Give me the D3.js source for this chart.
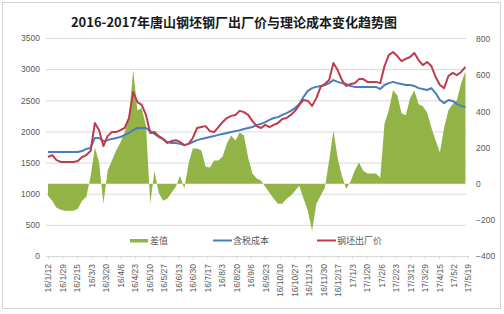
<!DOCTYPE html>
<html>
<head>
<meta charset="utf-8">
<script src="https://cdn.jsdelivr.net/npm/d3@7"></script>
<style>
  body { margin: 0; background: #fff; }
  svg { display: block; font-family: "Liberation Sans", Arial, sans-serif; }
  .cn { font-family: "Noto Sans CJK SC", sans-serif; }
  .tick text { fill: #595959; }
</style>
</head>
<body>
<div id="chart"></div>
<script>
// sample dates (every 5 days)
var dates = ["2016-01-12","2016-01-17","2016-01-22","2016-01-27",
  "2016-02-01","2016-02-06","2016-02-11","2016-02-16","2016-02-21","2016-02-26",
  "2016-03-02","2016-03-07","2016-03-12","2016-03-17","2016-03-22","2016-03-27",
  "2016-04-01","2016-04-06","2016-04-11","2016-04-16","2016-04-21","2016-04-26",
  "2016-05-01","2016-05-06","2016-05-11","2016-05-16","2016-05-21","2016-05-26","2016-05-31",
  "2016-06-05","2016-06-10","2016-06-15","2016-06-20","2016-06-25","2016-06-30",
  "2016-07-05","2016-07-10","2016-07-15","2016-07-20","2016-07-25","2016-07-30",
  "2016-08-04","2016-08-09","2016-08-14","2016-08-19","2016-08-24","2016-08-29",
  "2016-09-03","2016-09-08","2016-09-13","2016-09-18","2016-09-23","2016-09-28",
  "2016-10-03","2016-10-08","2016-10-13","2016-10-18","2016-10-23","2016-10-28",
  "2016-11-02","2016-11-07","2016-11-12","2016-11-17","2016-11-22","2016-11-27",
  "2016-12-02","2016-12-07","2016-12-12","2016-12-17","2016-12-22","2016-12-27",
  "2017-01-01","2017-01-06","2017-01-11","2017-01-16","2017-01-21","2017-01-26","2017-01-31",
  "2017-02-05","2017-02-10","2017-02-15","2017-02-20","2017-02-25",
  "2017-03-02","2017-03-07","2017-03-12","2017-03-17","2017-03-22","2017-03-27",
  "2017-04-01","2017-04-06","2017-04-11","2017-04-16","2017-04-21","2017-04-26",
  "2017-05-01","2017-05-06","2017-05-11","2017-05-16"];

// 钢坯出厂价 (left axis)
var price = [1590,1620,1540,1510,1510,1510,1510,1525,1590,1620,
  1685,2135,2020,1765,1925,1990,1990,2020,2055,2215,
  2635,2470,2425,2265,1975,1990,1925,1880,1815,1845,
  1860,1830,1780,1800,1895,2055,2070,2085,2005,1990,
  2070,2150,2215,2250,2265,2330,2310,2265,2165,2085,
  2055,2105,2070,2105,2135,2200,2215,2265,2330,2425,
  2505,2490,2410,2535,2715,2760,2825,3100,2985,2825,
  2730,2760,2775,2840,2840,2795,2795,2795,2775,3050,
  3225,3275,3210,3130,3165,3195,3260,3145,3065,3115,
  3050,2875,2745,2695,2890,2940,2905,2955,3035];

// 含税成本 (left axis)
var cost = [1670,1670,1670,1670,1670,1670,1670,1670,1685,1720,
  1735,1895,1895,1845,1860,1880,1895,1910,1945,1975,
  2020,2055,2055,2055,2005,1960,1910,1880,1830,1815,
  1815,1800,1780,1800,1830,1860,1880,1895,1910,1925,
  1945,1960,1975,1990,2005,2020,2040,2055,2070,2105,
  2120,2150,2185,2215,2230,2265,2295,2330,2375,2440,
  2555,2650,2695,2715,2730,2745,2775,2825,2795,2775,
  2760,2730,2715,2715,2715,2715,2715,2715,2680,2745,
  2775,2795,2775,2760,2745,2745,2730,2695,2680,2665,
  2695,2615,2505,2455,2505,2490,2440,2410,2390];

// 差值 (right axis)
var diff = [-67,-94,-133,-144,-150,-150,-150,-139,-94,-72,
  40,200,117,-111,72,128,183,228,283,367,
  628,406,417,322,-110,70,-50,-94,-83,-50,
  -17,44,-28,111,194,194,183,94,89,128,
  128,150,222,267,239,283,267,144,56,28,
  17,-17,-50,-83,-111,-111,-83,-67,-39,-11,
  -83,-150,-261,-111,-67,-22,128,294,144,44,
  -28,10,72,117,72,56,56,56,33,333,
  406,517,489,389,378,472,517,439,428,394,
  311,239,172,311,406,439,461,556,622];

var xTickLabels = ["16/1/12","16/1/29","16/2/15","16/3/3","16/3/20","16/4/6","16/4/23",
  "16/5/10","16/5/27","16/6/13","16/6/30","16/7/17","16/8/3","16/8/20","16/9/6",
  "16/9/23","16/10/10","16/10/27","16/11/13","16/11/30","16/12/17","17/1/3",
  "17/1/20","17/2/6","17/2/23","17/3/12","17/3/29","17/4/15","17/5/2","17/5/19"];
var leftTicks = [0, 500, 1000, 1500, 2000, 2500, 3000, 3500];
var rightTicks = [-400, -200, 0, 200, 400, 600, 800];

var width = 504, height = 314;
var plotLeft = 46, plotRight = 466, plotTop = 38, plotBottom = 256;

var svg = d3.select("#chart").append("svg")
  .attr("width", width)
  .attr("height", height);

// outer frame
svg.append("rect")
  .attr("x", 2.5).attr("y", 2.5)
  .attr("width", 498).attr("height", 306)
  .attr("fill", "#fff")
  .attr("stroke", "#d4d4d4");

var parseDay = d3.timeParse("%Y-%m-%d");
var parseLabel = d3.timeParse("%y/%m/%d");
var fmtLabel = d3.timeFormat("%y/%-m/%-d");

var rows = dates.map(function(d, i) {
  return { date: parseDay(d), price: price[i], cost: cost[i], diff: diff[i] };
});
var tickDates = xTickLabels.map(function(s) { return parseLabel(s); });

var x = d3.scaleTime()
  .domain([parseDay("2016-01-12"), parseDay("2017-05-19")])
  .range([48, 468]);
var yL = d3.scaleLinear().domain([0, 3500]).range([plotBottom, plotTop]);
var yR = d3.scaleLinear().domain([-400, 800]).range([plotBottom, plotTop + 1]);

// gridlines
svg.append("g")
  .attr("class", "grid")
  .attr("transform", "translate(" + plotLeft + ",0)")
  .call(d3.axisLeft(yL).tickValues(leftTicks).tickSize(-(plotRight - plotLeft)).tickFormat(""))
  .call(function(g) { g.select(".domain").remove(); })
  .selectAll("line").attr("stroke", "#d9d9d9");

// title
svg.append("text")
  .attr("class", "cn")
  .attr("x", 234).attr("y", 27)
  .attr("text-anchor", "middle")
  .attr("font-size", 13)
  .attr("font-weight", "bold")
  .attr("fill", "#1a1a1a")
  .text("2016-2017年唐山钢坯钢厂出厂价与理论成本变化趋势图");

// 差值 area
var area = d3.area()
  .x(function(d) { return x(d.date); })
  .y0(yR(0))
  .y1(function(d) { return yR(d.diff); });
svg.append("path")
  .datum(rows)
  .attr("d", area)
  .attr("fill", "#92b447");

var costLine = d3.line()
  .x(function(d) { return x(d.date); })
  .y(function(d) { return yL(d.cost); });
var priceLine = d3.line()
  .x(function(d) { return x(d.date); })
  .y(function(d) { return yL(d.price); });

svg.append("path")
  .datum(rows)
  .attr("d", costLine)
  .attr("fill", "none")
  .attr("stroke", "#4a7ebb")
  .attr("stroke-width", 2)
  .attr("stroke-linejoin", "round");

svg.append("path")
  .datum(rows)
  .attr("d", priceLine)
  .attr("fill", "none")
  .attr("stroke", "#be3b4b")
  .attr("stroke-width", 2)
  .attr("stroke-linejoin", "round");

// left axis
svg.append("g")
  .attr("transform", "translate(" + plotLeft + ",0)")
  .call(d3.axisLeft(yL).tickValues(leftTicks).tickSize(0).tickPadding(6).tickFormat(d3.format("d")))
  .call(function(g) { g.select(".domain").remove(); })
  .selectAll("text").attr("font-size", 8.5);

// right axis
svg.append("g")
  .attr("transform", "translate(" + plotRight + ",0)")
  .call(d3.axisRight(yR).tickValues(rightTicks).tickSize(0).tickPadding(10).tickFormat(d3.format("d")))
  .call(function(g) { g.select(".domain").remove(); })
  .selectAll("text").attr("font-size", 8.5);

// bottom axis
var XAxis = svg.append("g")
  .attr("transform", "translate(0," + plotBottom + ")")
  .call(d3.axisBottom(x).tickValues(tickDates).tickSize(3).tickFormat(fmtLabel));
XAxis.select(".domain").attr("stroke", "#d9d9d9");
XAxis.selectAll(".tick line").attr("stroke", "#d9d9d9");
XAxis.selectAll("text")
  .attr("font-size", 8.5)
  .attr("transform", "rotate(-90)")
  .attr("x", -8)
  .attr("y", 0)
  .attr("dy", "0.35em")
  .style("text-anchor", "end");

// legend
var legend = svg.append("g").attr("class", "cn").attr("font-size", 9).attr("fill", "#595959");
legend.append("rect")
  .attr("x", 130).attr("y", 239)
  .attr("width", 18).attr("height", 3.5)
  .attr("fill", "#92b447");
legend.append("text").attr("x", 150).attr("y", 244).text("差值");

legend.append("line")
  .attr("x1", 213).attr("x2", 232).attr("y1", 240.5).attr("y2", 240.5)
  .attr("stroke", "#4a7ebb").attr("stroke-width", 2);
legend.append("text").attr("x", 233).attr("y", 244).text("含税成本");

legend.append("line")
  .attr("x1", 317).attr("x2", 336).attr("y1", 240.5).attr("y2", 240.5)
  .attr("stroke", "#be3b4b").attr("stroke-width", 2);
legend.append("text").attr("x", 337).attr("y", 244).text("钢坯出厂价");
</script>
</body>
</html>
